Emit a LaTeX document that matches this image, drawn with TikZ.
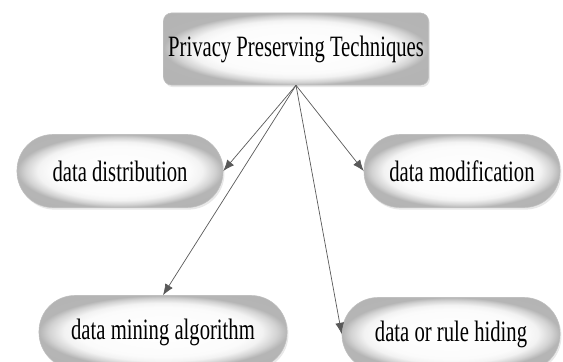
\documentclass[tikz,border=0pt]{standalone}
\usepackage{fontspec}
\setmainfont{Liberation Serif}[FakeStretch=0.7]
\usetikzlibrary{arrows.meta,shadows}

\pgfdeclareradialshading{boxshade}{\pgfpoint{0bp}{0bp}}{%
    color(0bp)=(white); color(17bp)=(gray!3); color(20bp)=(gray!10);
    color(23bp)=(gray!35); color(25bp)=(gray!58); color(50bp)=(gray!62)}

\begin{document}
\begin{tikzpicture}[x=0.025cm,y=-0.025cm,
        box/.style={shading=boxshade, draw=gray!50, line width=0.4pt,
            minimum height=1.825cm,
            drop shadow={opacity=0.18, shadow xshift=1pt, shadow yshift=-1.5pt},
            font=\fontsize{21}{23}\selectfont, text=black},
        pill/.style={box, rounded corners=0.9cm},
        link/.style={draw=black!65, line width=0.5pt, -{Latex[length=2.8mm,width=2.2mm]}}]
    \useasboundingbox (0,0) rectangle (563,361);
        \node[box, rounded corners=0.2cm, minimum width=6.6cm, minimum height=1.8cm] (top) at (296,49) {Privacy Preserving Techniques};
        \node[pill, minimum width=5.15cm] (dist) at (120,171) {data distribution};
        \node[pill, minimum width=4.9cm] (modif) at (462,171) {data modification};
        \node[pill, minimum width=6.2cm] (mining) at (163,332) {data mining algorithm};
        \node[pill, minimum width=5.45cm] (hiding) at (451,334) {data or rule hiding};
        \draw[link] (top.south) -- (dist.east);
        \draw[link] (top.south) -- (modif.west);
        \draw[link] (top.south) -- (mining.north);
        \draw[link] (top.south) -- (hiding.west);
    \end{tikzpicture}
\end{document}
